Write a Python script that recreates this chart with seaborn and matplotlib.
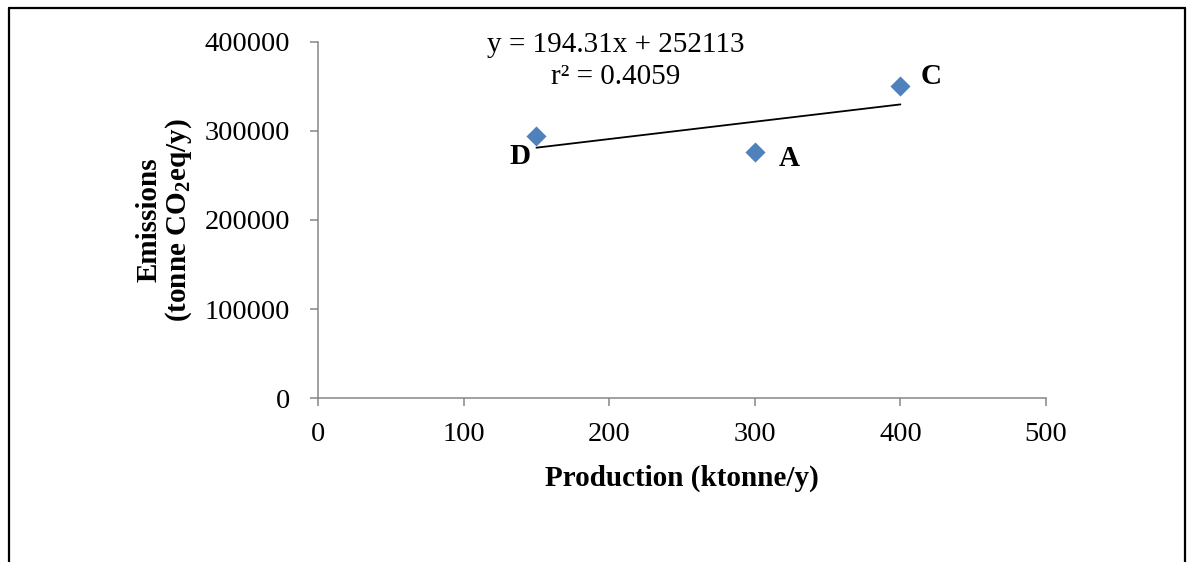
import matplotlib
matplotlib.use("Agg")
import matplotlib.pyplot as plt
import seaborn as sns
import pandas as pd
from matplotlib.lines import Line2D

# data
sites = ["D", "A", "C"]
production = [150, 300, 400]          # ktonne/y
emissions = [294800, 276500, 350200]  # tonne CO2eq/y
equation_text = "y = 194.31x + 252113"
r2_text = "r\u00b2 = 0.4059"
x_ticks = [0, 100, 200, 300, 400, 500]
y_ticks = [0, 100000, 200000, 300000, 400000]

df = pd.DataFrame({"site": sites, "production": production, "emissions": emissions})

sns.set_style("ticks")
plt.rcParams["font.family"] = ["Liberation Serif", "DejaVu Serif"]
plt.rcParams["mathtext.fontset"] = "custom"
plt.rcParams["mathtext.rm"] = "Liberation Serif"
plt.rcParams["mathtext.bf"] = "Liberation Serif:bold"
plt.rcParams["text.color"] = "black"
plt.rcParams["axes.labelcolor"] = "black"

fig = plt.figure(figsize=(11.89, 5.62), dpi=100)
ax = fig.add_axes([0.2675, 0.2918, 0.6122, 0.6335])

blue = "#4F81BD"
grey = "#868686"

sns.regplot(data=df, x="production", y="emissions", scatter=False, ci=None,
            truncate=True, color="black", line_kws={"lw": 1.3}, ax=ax)
sns.scatterplot(data=df, x="production", y="emissions", marker="D", s=105,
                color=blue, edgecolor=blue, linewidth=0, ax=ax, zorder=3)

# point labels
offsets = {"D": (-12, -15), "A": (25, -5), "C": (22, 7)}
for s, xv, yv in zip(sites, production, emissions):
    ax.annotate(s, (xv, yv), xytext=offsets[s], textcoords="offset points",
                ha="center", va="center", fontsize=21, fontweight="bold")

ax.text(204.7, 396600, equation_text, ha="center", va="center", fontsize=21, clip_on=False)
ax.text(204.7, 360700, r2_text, ha="center", va="center", fontsize=21, clip_on=False)

ax.set_xlim(0, 500)
ax.set_ylim(0, 400000)
ax.set_xticks(x_ticks)
ax.set_yticks(y_ticks)
ax.set_xticklabels([str(t) for t in x_ticks])
ax.set_yticklabels([str(t) for t in y_ticks])

ax.set_xlabel("Production (ktonne/y)", fontsize=21, fontweight="bold", labelpad=13)
ax.set_ylabel("Emissions\n(tonne CO$_\\mathbf{2}$eq/y)", fontsize=21,
              fontweight="bold", labelpad=8, linespacing=1.0)

sns.despine(ax=ax)
for side in ["left", "bottom"]:
    ax.spines[side].set_color(grey)
    ax.spines[side].set_linewidth(1.1)
ax.tick_params(axis="both", direction="out", length=6, width=1.1, color=grey,
               labelsize=20.5, labelcolor="black")
ax.tick_params(axis="y", pad=14)
ax.tick_params(axis="x", pad=11)

# figure frame (left, top, right)
lw = 1.6
fig.add_artist(Line2D([0.0075, 0.0075], [0.0, 0.985], transform=fig.transFigure, color="black", lw=lw))
fig.add_artist(Line2D([0.0075, 0.9965], [0.985, 0.985], transform=fig.transFigure, color="black", lw=lw))
fig.add_artist(Line2D([0.9965, 0.9965], [0.0, 0.985], transform=fig.transFigure, color="black", lw=lw))

fig.savefig("out.png", dpi=100)
